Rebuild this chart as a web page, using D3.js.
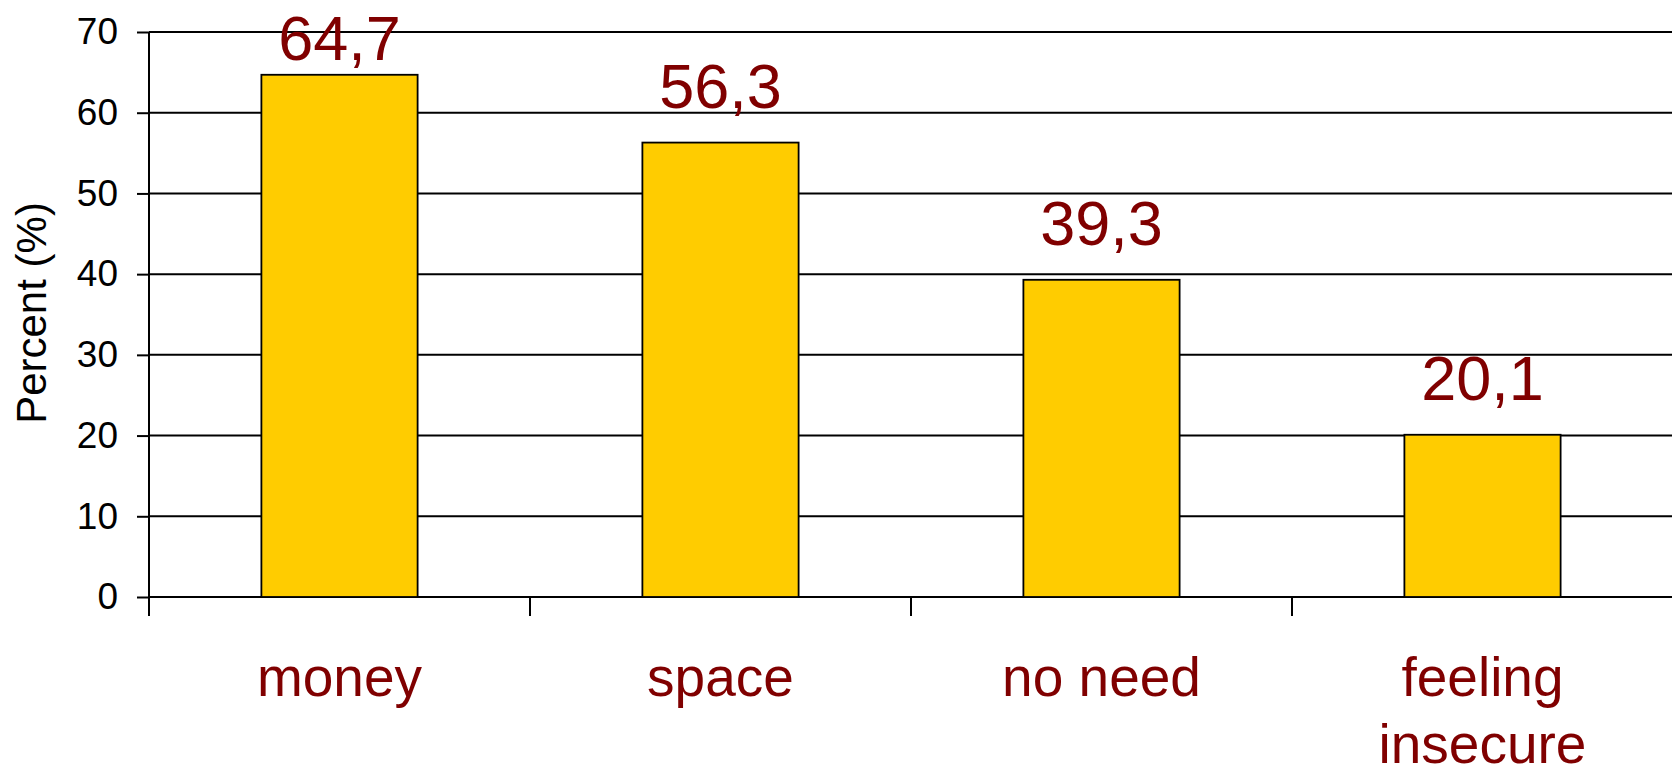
<!DOCTYPE html>
<html>
<head>
<meta charset="utf-8">
<script src="https://cdn.jsdelivr.net/npm/d3@7"></script>
<style>
  html, body { margin: 0; padding: 0; background: #fff; }
  svg { display: block; }
  text { font-family: "Liberation Sans", Arial, sans-serif; }
</style>
</head>
<body>
<svg id="chart" width="1672" height="770"></svg>
<script>
const categories = ["money", "space", "no need", "feeling insecure"];
const categoryLines = [["money"], ["space"], ["no need"], ["feeling", "insecure"]];
const values = [64.7, 56.3, 39.3, 20.1];
const valueLabels = ["64,7", "56,3", "39,3", "20,1"];
const yTicks = [0, 10, 20, 30, 40, 50, 60, 70];
const yTitle = "Percent (%)";

(function () {
const svg = d3.select("#chart");
const mLeft = 149, mRight = 1673, mTop = 32, mBottom = 597;

const y = d3.scaleLinear().domain([0, 70]).range([mBottom, mTop]);
const xOuter = d3.scaleBand().domain(categories).range([mLeft, mRight]).padding(0);
const xBar = d3.scaleBand().domain(categories).range([mLeft, mRight])
  .paddingInner(0.59).paddingOuter(0.295);

// gridlines
svg.append("g").selectAll("line").data(yTicks).join("line")
  .attr("x1", mLeft).attr("x2", 1672)
  .attr("y1", d => y(d)).attr("y2", d => y(d))
  .attr("stroke", "#000").attr("stroke-width", 2);

// y axis
const yAxis = d3.axisLeft(y).tickValues(yTicks).tickSize(12).tickPadding(19).tickFormat(d3.format("d"));
const gy = svg.append("g").attr("transform", `translate(${mLeft},0)`).call(yAxis);
gy.select(".domain").remove();
gy.selectAll(".tick line").attr("stroke", "#000").attr("stroke-width", 2);
gy.selectAll(".tick text").attr("fill", "#000").style("font-size", "37px")
  .style("font-family", '"Liberation Sans", Arial, sans-serif');
svg.append("line").attr("x1", mLeft).attr("x2", mLeft).attr("y1", mTop).attr("y2", mBottom + 19)
  .attr("stroke", "#000").attr("stroke-width", 2);

// x category ticks at boundaries
const bounds = categories.map(c => xOuter(c)).concat([xOuter(categories[categories.length - 1]) + xOuter.bandwidth()]);
svg.append("g").selectAll("line").data(bounds).join("line")
  .attr("x1", d => d).attr("x2", d => d)
  .attr("y1", mBottom).attr("y2", mBottom + 19)
  .attr("stroke", "#000").attr("stroke-width", 2);

// bars
svg.append("g").selectAll("rect").data(values).join("rect")
  .attr("x", (d, i) => xBar(categories[i]))
  .attr("width", xBar.bandwidth())
  .attr("y", d => y(d))
  .attr("height", d => y(0) - y(d))
  .attr("fill", "#FFCC00")
  .attr("stroke", "#000").attr("stroke-width", 1.8);

// value labels
svg.append("g").selectAll("text").data(values).join("text")
  .attr("x", (d, i) => xBar(categories[i]) + xBar.bandwidth() / 2)
  .attr("y", d => Math.max(y(d) - 35, 60))
  .attr("text-anchor", "middle")
  .attr("fill", "#800000")
  .style("font-size", "63px")
  .text((d, i) => valueLabels[i]);

// category labels
const cat = svg.append("g").selectAll("text").data(categories).join("text")
  .attr("x", d => xOuter(d) + xOuter.bandwidth() / 2)
  .attr("y", 696)
  .attr("text-anchor", "middle")
  .attr("fill", "#800000")
  .style("font-size", "55px");
cat.each(function(d, i) {
  d3.select(this).selectAll("tspan").data(categoryLines[i]).join("tspan")
    .attr("x", xOuter(d) + xOuter.bandwidth() / 2)
    .attr("dy", (t, j) => j === 0 ? 0 : 67)
    .text(t => t);
});

// y title
svg.append("text")
  .attr("transform", `translate(46,313) rotate(-90)`)
  .attr("text-anchor", "middle")
  .attr("fill", "#000")
  .style("font-size", "42px")
  .text(yTitle);
})();
</script>
</body>
</html>
